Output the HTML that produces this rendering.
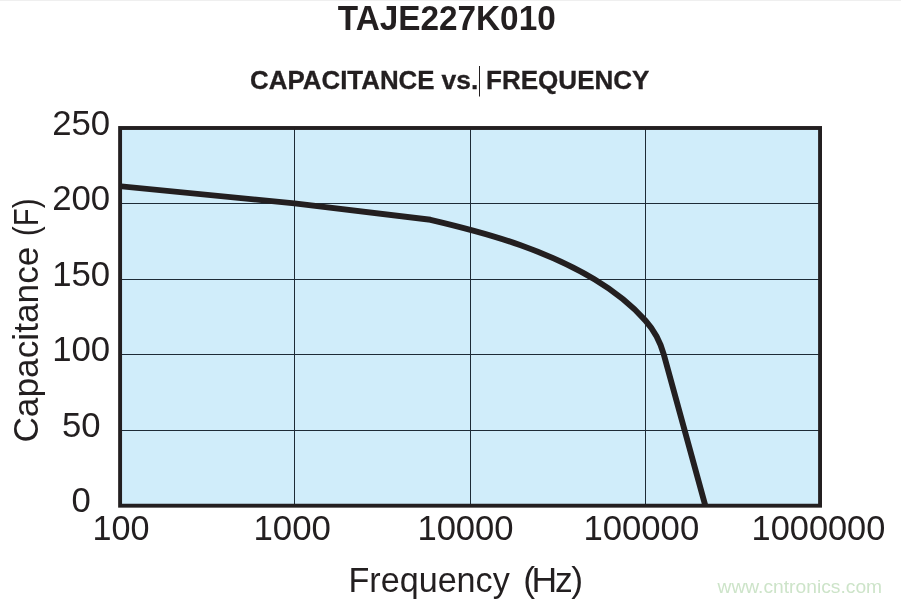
<!DOCTYPE html>
<html>
<head>
<meta charset="utf-8">
<title>TAJE227K010 Capacitance vs. Frequency</title>
<style>
html,body{margin:0;padding:0;background:#fff;}
body{width:901px;height:602px;overflow:hidden;position:relative;font-family:"Liberation Sans",sans-serif;}
svg{position:absolute;left:0;top:0;display:block;}
text{font-family:"Liberation Sans",sans-serif;fill:#231f20;}
.b{font-weight:bold;}
</style>
</head>
<body>
<svg width="901" height="602" viewBox="0 0 901 602" xmlns="http://www.w3.org/2000/svg">
  <defs>
    <clipPath id="plotclip"><rect x="119" y="127" width="702" height="380"/></clipPath>
  </defs>
  <rect x="0" y="0" width="901" height="602" fill="#ffffff"/>
  <rect x="0" y="0" width="901" height="1" fill="#efefef"/>
  <!-- plot area -->
  <rect x="120" y="128" width="700" height="377.7" fill="#d0edfa"/>
  <!-- grid -->
  <g fill="#1d2b36" shape-rendering="crispEdges">
    <rect x="294" y="128" width="1" height="377"/>
    <rect x="470" y="128" width="1" height="377"/>
    <rect x="645" y="128" width="1" height="377"/>
    <rect x="120" y="203" width="700" height="1"/>
    <rect x="120" y="279" width="700" height="1"/>
    <rect x="120" y="354" width="700" height="1"/>
    <rect x="120" y="430" width="700" height="1"/>
  </g>
  <!-- curve -->
  <g clip-path="url(#plotclip)">
  <path id="curve" d="M117,185.9 L294.5,203.4 L430.5,219.8 C460.7,226.9 490.8,234.5 520.0,245.0 C545.7,254.2 571.0,265.2 594.4,279.3 C613.2,290.6 631.0,304.3 645.6,320.7 C654.1,330.2 660.4,342.2 663.8,354.5 L706.1,508.5" fill="none" stroke="#231f20" stroke-width="5.9" stroke-linejoin="round"/>
  </g>
  <!-- border -->
  <rect x="120.1" y="128" width="699.95" height="377.7" fill="none" stroke="#231f20" stroke-width="3.9"/>
  <!-- titles -->
  <text class="b" x="337.8" y="29.6" font-size="34.9" textLength="217.9" lengthAdjust="spacingAndGlyphs">TAJE227K010</text>
  <text class="b" y="89" font-size="25" stroke="#231f20" stroke-width="0.3"><tspan x="250" textLength="184.6" lengthAdjust="spacingAndGlyphs">CAPACITANCE</tspan><tspan> </tspan><tspan x="441.6" textLength="36.8" lengthAdjust="spacingAndGlyphs">vs.</tspan><tspan> </tspan><tspan x="486" textLength="163.5" lengthAdjust="spacingAndGlyphs">FREQUENCY</tspan></text>
  <rect x="479" y="66" width="1" height="30.5" fill="#231f20"/>
  <!-- y labels -->
  <g font-size="35.8" text-anchor="middle">
    <text x="81.2" y="135" textLength="58" lengthAdjust="spacingAndGlyphs">250</text>
    <text x="81.2" y="210" textLength="58" lengthAdjust="spacingAndGlyphs">200</text>
    <text x="81.2" y="285.5" textLength="58" lengthAdjust="spacingAndGlyphs">150</text>
    <text x="81.2" y="360.7" textLength="58" lengthAdjust="spacingAndGlyphs">100</text>
    <text x="81.2" y="436.7" textLength="38.6" lengthAdjust="spacingAndGlyphs">50</text>
    <text x="81.2" y="511.8" textLength="19.3" lengthAdjust="spacingAndGlyphs">0</text>
  </g>
  <!-- x labels -->
  <g font-size="35.8">
    <text x="92.4" y="539.8" textLength="57" lengthAdjust="spacingAndGlyphs">100</text>
    <text x="253.4" y="539.8" textLength="77.5" lengthAdjust="spacingAndGlyphs">1000</text>
    <text x="417.4" y="539.8" textLength="96.2" lengthAdjust="spacingAndGlyphs">10000</text>
    <text x="583.4" y="539.8" textLength="115.8" lengthAdjust="spacingAndGlyphs">100000</text>
    <text x="751.6" y="539.8" textLength="133.7" lengthAdjust="spacingAndGlyphs">1000000</text>
  </g>
  <text y="592" font-size="35.5"><tspan x="348.4" textLength="161.4" lengthAdjust="spacingAndGlyphs">Frequency</tspan><tspan> </tspan><tspan x="523.2" dx="0 -3.5 -2.2 -1.35">(Hz)</tspan></text>
  <text transform="translate(37.9,442.6) rotate(-90)" font-size="35.4"><tspan x="0" textLength="196" lengthAdjust="spacingAndGlyphs">Capacitance</tspan><tspan> </tspan><tspan x="206.6" textLength="37.4" lengthAdjust="spacingAndGlyphs">(F)</tspan></text>
  <text x="717.5" y="593.1" font-size="19.2" textLength="164.6" lengthAdjust="spacingAndGlyphs" style="fill:#cde4c9">www.cntronics.com</text>
</svg>
</body>
</html>
